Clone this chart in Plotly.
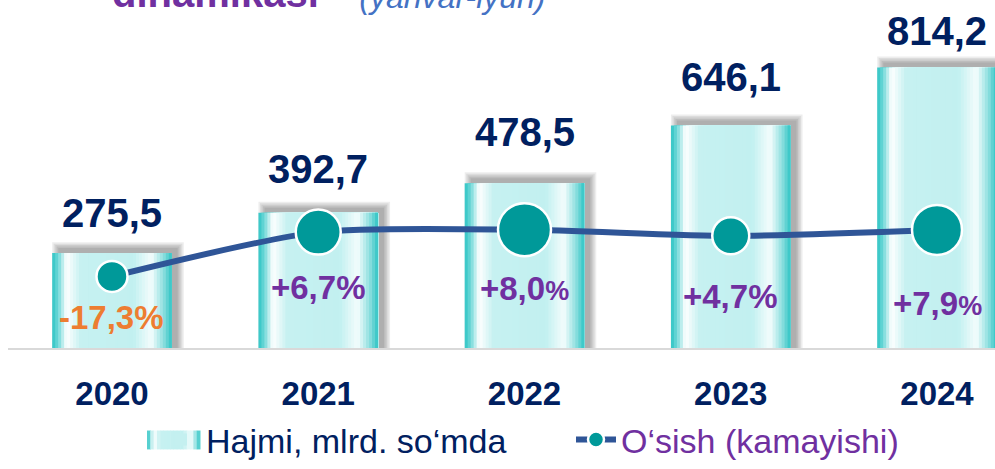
import plotly.graph_objects as go

# Dades del gràfic
anys = [2020, 2021, 2022, 2023, 2024]
hajmi = [275.5, 392.7, 478.5, 646.1, 814.2]
osish = [-17.3, 6.7, 8.0, 4.7, 7.9]

nom_hajmi = "Hajmi, mlrd. so‘mda"
nom_osish = "O‘sish (kamayishi)"

# Colors
NAVY = '#002060'
PURPLE = '#7030a0'
ORANGE = '#ed7d31'
LINE_BLUE = '#2f5597'
TEAL = '#009999'
FONT = 'Arial, Liberation Sans, sans-serif'

# Píxels -> unitats de dades (aprox., segons rangs dels eixos)
X_RANGE = [2019.4958, 2024.2812]
Y_RANGE = [0, 1010]
Y2_RANGE = [-56.05, 132.4]
PLOT_L = 8
PLOT_W = 987
PLOT_H = 350
XPX = (X_RANGE[1] - X_RANGE[0]) / PLOT_W
YPX = (Y_RANGE[1] - Y_RANGE[0]) / PLOT_H

BAR_W = 0.58

# Degradat de les barres (posició relativa, color)
gradient = [(0.00, '#2ec4c4'), (0.05, '#6fd8d8'), (0.12, '#ffffff'),
            (0.24, '#c6f1f1'), (0.68, '#c2f0f0'), (0.83, '#f4fdfd'),
            (0.93, '#8ddfdf'), (1.00, '#2ec4c4')]


def hex_rgb(h):
    h = h.lstrip('#')
    return tuple(int(h[i:i + 2], 16) for i in (0, 2, 4))


def color_at(t):
    for (p0, c0), (p1, c1) in zip(gradient[:-1], gradient[1:]):
        if p0 <= t <= p1:
            f = (t - p0) / (p1 - p0) if p1 > p0 else 0
            a, b = hex_rgb(c0), hex_rgb(c1)
            r = [round(a[i] + (b[i] - a[i]) * f) for i in range(3)]
            return f'rgb({r[0]},{r[1]},{r[2]})'
    return gradient[-1][1]


def afegir_barres(fig):
    # ombra difuminada (cap amunt i a la dreta)
    for e in [0, 1.5, 3, 4.5, 6]:
        fig.add_trace(go.Bar(
            x=anys, y=[v + (5 + e) * YPX for v in hajmi],
            width=BAR_W + (2 * e) * XPX,
            offset=-BAR_W / 2 + (6 - e) * XPX,
            marker=dict(color='rgba(0,0,0,0.07)', line=dict(width=0)),
            showlegend=False, hoverinfo='skip'
        ))

    # franges superposades: cadascuna cobreix fins al final de la barra
    n = 40
    pas = BAR_W / n
    for k in range(n):
        t = (k + 0.5) / n
        fig.add_trace(go.Bar(
            x=anys, y=hajmi,
            width=(n - k) * pas,
            offset=-BAR_W / 2 + k * pas,
            marker=dict(color=color_at(t), line=dict(width=0)),
            name=nom_hajmi,
            showlegend=(k == n // 2),
            hoverinfo='skip',
        ))


def icona_llegenda(fig, x0, x1, y0, y1):
    # rectangle amb degradat per a la icona de la llegenda (px de pàgina)
    n = 16
    for k in range(n):
        a = x0 + (x1 - x0) * k / n
        b = x0 + (x1 - x0) * (k + 1) / n
        fig.add_shape(
            type='rect', xref='paper', yref='paper',
            x0=(a - PLOT_L) / PLOT_W, x1=(b + 0.5 - PLOT_L) / PLOT_W,
            y0=(PLOT_H - y1) / PLOT_H, y1=(PLOT_H - y0) / PLOT_H,
            fillcolor=color_at((k + 0.5) / n), line=dict(width=0),
            layer='above'
        )


def crear_grafic():
    fig = go.Figure()
    afegir_barres(fig)

    # línia de creixement
    fig.add_trace(go.Scatter(
        x=anys, y=osish, yaxis='y2',
        mode='lines+markers',
        line=dict(color=LINE_BLUE, width=6, shape='spline', smoothing=0.7),
        marker=dict(size=[31, 45, 53, 37, 50], color=TEAL, opacity=1,
                    line=dict(color='white', width=2.5)),
        name=f"<span style='color:{PURPLE}'>{nom_osish}</span>",
    ))

    # etiquetes de volum
    despl_val = [40, 44, 51, 48, 36]
    for x, v, s in zip(anys, hajmi, despl_val):
        fig.add_annotation(
            x=x, y=v, yref='y', text=f"<b>{v:.1f}</b>".replace('.', ','),
            showarrow=False, yanchor='middle', yshift=s,
            font=dict(family=FONT, size=40, color=NAVY)
        )

    # etiquetes de creixement
    despl_pct = [-41, -55, -59, -61, -74]
    mida_pct = [33, 33, 27, 33, 27]
    for x, g, s, m in zip(anys, osish, despl_pct, mida_pct):
        num = f"{g:+.1f}".replace('.', ',')
        fig.add_annotation(
            x=x, y=g, yref='y2',
            text=f"<b>{num}<span style='font-size:{m}px'>%</span></b>",
            showarrow=False, yanchor='middle', yshift=s,
            font=dict(family=FONT, size=33, color=ORANGE if g < 0 else PURPLE)
        )

    # títol (retallat a la part superior)
    fig.add_annotation(
        x=(110 - PLOT_L) / PLOT_W, xref='paper', xanchor='left',
        y=1, yref='paper', yanchor='middle', yshift=7,
        text="<b>dinamikasi</b>", showarrow=False,
        font=dict(family=FONT, size=40, color=PURPLE)
    )
    fig.add_annotation(
        x=(336 - PLOT_L) / PLOT_W, xref='paper', xanchor='left',
        y=1, yref='paper', yanchor='middle', yshift=3,
        text="<i>* (yanvar-iyun)</i>", showarrow=False,
        font=dict(family=FONT, size=32, color='#4472c4')
    )

    icona_llegenda(fig, 147, 200, 433, 452)

    fig.update_layout(
        width=995, height=469,
        barmode='overlay',
        plot_bgcolor='white', paper_bgcolor='white',
        margin=dict(l=PLOT_L, r=0, t=0, b=469 - PLOT_H),
        xaxis=dict(
            range=X_RANGE, tickmode='array', tickvals=anys,
            ticktext=[f"<b>{a}</b>" for a in anys],
            tickfont=dict(family=FONT, size=33, color=NAVY),
            showgrid=False, zeroline=False,
            showline=True, linecolor='#d9d9d9', linewidth=2,
            ticks='', ticklabelstandoff=15,
        ),
        yaxis=dict(range=Y_RANGE, visible=False),
        yaxis2=dict(range=Y2_RANGE, overlaying='y', visible=False),
        showlegend=True,
        legend=dict(
            orientation='h', x=(156 - PLOT_L) / PLOT_W, xanchor='left',
            y=-0.264, yanchor='middle',
            font=dict(family=FONT, size=34, color=NAVY),
            bgcolor='rgba(0,0,0,0)', itemwidth=40, traceorder='normal',
            entrywidth=360, entrywidthmode='pixels',
        ),
    )
    return fig


def main():
    fig = crear_grafic()
    fig.write_html("out.html", config={'displayModeBar': False},
                   post_script="document.body.style.margin='0';")


if __name__ == "__main__":
    main()
